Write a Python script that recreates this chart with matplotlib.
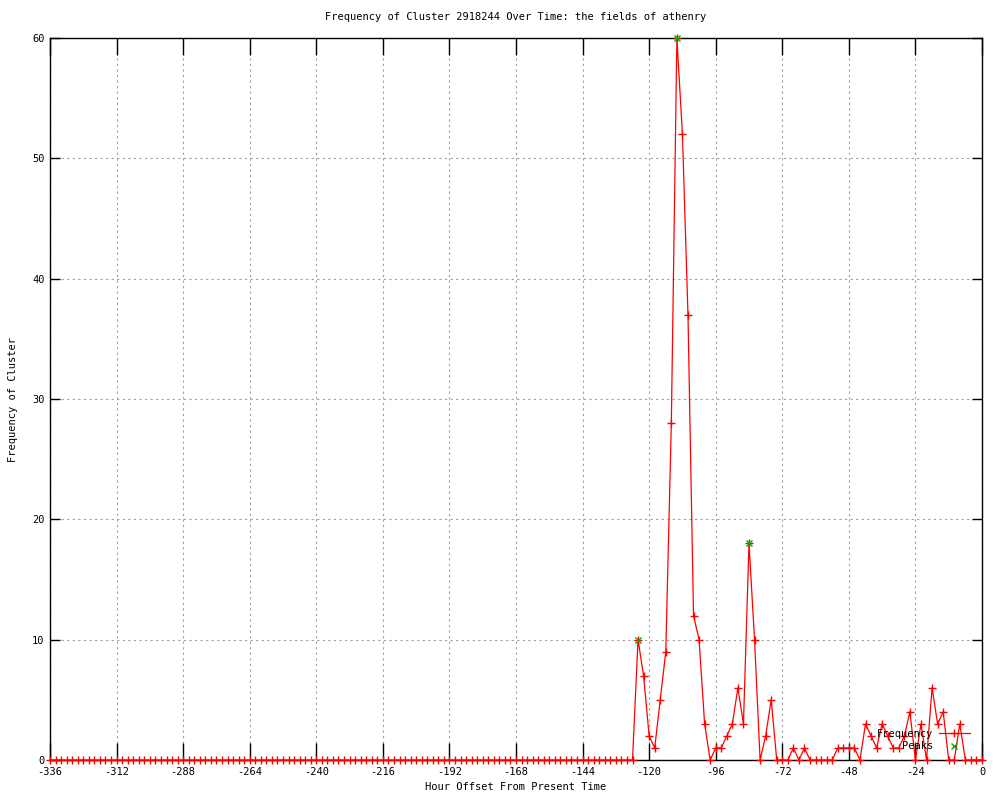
import matplotlib
matplotlib.use('Agg')
import matplotlib.pyplot as plt
import numpy as np

plt.rcParams['font.family'] = ['DejaVu Sans Mono']
plt.rcParams['axes.unicode_minus'] = False

# hour offsets, every 2 hours from -336 to 0
hours = list(range(-336, 1, 2))

# non-zero counts (everything else is 0)
nonzero = {
    -124: 10, -122: 7, -120: 2, -118: 1, -116: 5, -114: 9, -112: 28,
    -110: 60, -108: 52, -106: 37, -104: 12, -102: 10, -100: 3,
    -96: 1, -94: 1, -92: 2, -90: 3, -88: 6, -86: 3, -84: 18, -82: 10,
    -78: 2, -76: 5, -68: 1, -64: 1,
    -52: 1, -50: 1, -48: 1, -46: 1,
    -42: 3, -40: 2, -38: 1, -36: 3, -34: 2, -32: 1, -30: 1, -28: 2,
    -26: 4, -22: 3, -18: 6, -16: 3, -14: 4, -8: 3,
}
frequency = [nonzero.get(h, 0) for h in hours]

peak_hours = [-124, -110, -84]
peak_values = [10, 60, 18]

x_ticks = list(range(-336, 1, 24))
y_ticks = list(range(0, 61, 10))

fig = plt.figure(figsize=(10, 8), dpi=100)
ax = fig.add_axes([0.05, 0.05, 0.932, 0.9025])

ax.plot(hours, frequency, color='red', lw=0.9, marker='+', ms=6, mew=1.0,
        label='Frequency', clip_on=False, zorder=3)
ax.plot(peak_hours, peak_values, ls='none', color='#00b000', marker='x', ms=5,
        mew=1.0, label='Peaks', clip_on=False, zorder=4)

ax.set_xlim(-336, 0)
ax.set_ylim(0, 60)
ax.set_xticks(x_ticks)
ax.set_yticks(y_ticks)
ax.grid(True, color='#a0a0a0', ls=(0, (2, 3)), lw=0.8)
ax.tick_params(axis='x', direction='in', length=12, width=1, top=True,
               labelsize=7.5, pad=5)
ax.tick_params(axis='y', direction='in', length=7, width=1, right=True,
               labelsize=7.5, pad=4)
for s in ax.spines.values():
    s.set_linewidth(1)
    s.set_zorder(2.5)

ax.set_title('Frequency of Cluster 2918244 Over Time: the fields of athenry',
             fontsize=7.5, pad=13)
ax.set_xlabel('Hour Offset From Present Time', fontsize=7.5, labelpad=4)
ax.set_ylabel('Frequency of Cluster', fontsize=7.5, labelpad=10)

leg = ax.legend(loc='center right', bbox_to_anchor=(0.975, 0.075),
                bbox_transform=fig.transFigure, frameon=False, markerfirst=False,
                fontsize=7.5, handlelength=3.0, labelspacing=0.25,
                handletextpad=0.5, borderpad=0)
leg.set_zorder(5)

fig.savefig('out.png', dpi=100)
